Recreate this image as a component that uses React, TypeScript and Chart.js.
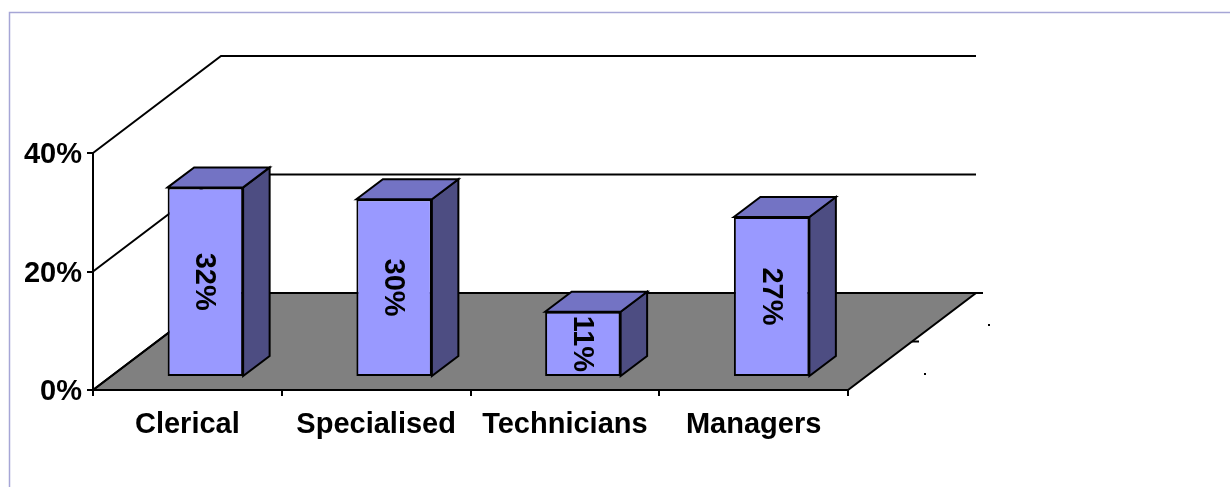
import React, { useEffect, useRef } from "react";
import { Chart, registerables } from "chart.js";

Chart.register(...registerables);

const categories = ["Clerical", "Specialised", "Technicians", "Managers"];
const shares = [32, 30, 11, 27];
const yTicks = [0, 20, 40];

const FONT = "'Liberation Sans', Arial, sans-serif";
const DEPTH_X = 128;
const DEPTH_Y = -97;
const BAR_SHIFT_X = 18;
const BAR_SHIFT_Y = -13;
const BAR_DX = 26.5;
const BAR_DY = -20;

const threeD = {
  id: "threeD",
  beforeDraw(chart: any) {
    const ctx = chart.ctx;
    const { left, right, bottom } = chart.chartArea;
    const y = chart.scales.y;
    ctx.save();
    // outer frame
    ctx.strokeStyle = "#a6a6d6";
    ctx.lineWidth = 1.5;
    ctx.beginPath();
    ctx.moveTo(9.5, 490);
    ctx.lineTo(9.5, 12.5);
    ctx.lineTo(1235, 12.5);
    ctx.stroke();
    // floor
    ctx.fillStyle = "#808080";
    ctx.strokeStyle = "#000";
    ctx.lineWidth = 2;
    ctx.beginPath();
    ctx.moveTo(left, bottom);
    ctx.lineTo(right, bottom);
    ctx.lineTo(right + DEPTH_X, bottom + DEPTH_Y);
    ctx.lineTo(left + DEPTH_X, bottom + DEPTH_Y);
    ctx.closePath();
    ctx.fill();
    ctx.stroke();
    // wall gridlines
    yTicks.forEach((v) => {
      const py = y.getPixelForValue(v);
      ctx.beginPath();
      ctx.moveTo(left, py);
      ctx.lineTo(left + DEPTH_X, py + DEPTH_Y);
      ctx.lineTo(right + DEPTH_X, py + DEPTH_Y);
      ctx.stroke();
    });
    // depth axis ticks
    ctx.beginPath();
    ctx.moveTo(right + DEPTH_X, bottom + DEPTH_Y);
    ctx.lineTo(right + DEPTH_X + 7, bottom + DEPTH_Y);
    ctx.moveTo(right + DEPTH_X / 2, bottom + DEPTH_Y / 2);
    ctx.lineTo(right + DEPTH_X / 2 + 7, bottom + DEPTH_Y / 2);
    ctx.stroke();
    ctx.fillStyle = "#000";
    ctx.fillRect(right + 140, bottom - 66, 2, 2);
    ctx.fillRect(right + 76, bottom - 17, 2, 2);
    ctx.restore();
  },
  beforeDatasetsDraw(chart: any) {
    chart.ctx.save();
    chart.ctx.translate(BAR_SHIFT_X, BAR_SHIFT_Y);
  },
  afterDatasetsDraw(chart: any) {
    const ctx = chart.ctx;
    ctx.restore();
    const meta = chart.getDatasetMeta(0);
    ctx.save();
    ctx.strokeStyle = "#000";
    ctx.lineWidth = 2;
    ctx.lineJoin = "miter";
    meta.data.forEach((bar: any, i: number) => {
      const p = bar.getProps(["x", "y", "base", "width"], true);
      const x1 = p.x - p.width / 2 + BAR_SHIFT_X;
      const x2 = p.x + p.width / 2 + BAR_SHIFT_X;
      const yt = p.y + BAR_SHIFT_Y;
      const yb = p.base + BAR_SHIFT_Y;
      // side
      ctx.fillStyle = "#4d4d82";
      ctx.beginPath();
      ctx.moveTo(x2, yt);
      ctx.lineTo(x2 + BAR_DX, yt + BAR_DY);
      ctx.lineTo(x2 + BAR_DX, yb + BAR_DY);
      ctx.lineTo(x2, yb);
      ctx.closePath();
      ctx.fill();
      ctx.stroke();
      // top
      ctx.fillStyle = "#7373c4";
      ctx.beginPath();
      ctx.moveTo(x1, yt);
      ctx.lineTo(x1 + BAR_DX, yt + BAR_DY);
      ctx.lineTo(x2 + BAR_DX, yt + BAR_DY);
      ctx.lineTo(x2, yt);
      ctx.closePath();
      ctx.fill();
      ctx.stroke();
      // label
      ctx.save();
      ctx.translate((x1 + x2) / 2 - 1, (yt + yb) / 2);
      ctx.rotate(Math.PI / 2);
      ctx.fillStyle = "#000";
      ctx.font = `bold 29px ${FONT}`;
      ctx.textAlign = "center";
      ctx.textBaseline = "middle";
      ctx.fillText(`${shares[i]}%`, 0, 0);
      ctx.restore();
    });
    ctx.restore();
  },
};

export default function App() {
  const ref = useRef<HTMLCanvasElement>(null);
  useEffect(() => {
    if (!ref.current) return;
    const chart = new Chart(ref.current, {
      type: "bar",
      data: {
        labels: categories,
        datasets: [
          {
            data: shares,
            backgroundColor: "#9999ff",
            borderColor: "#000",
            borderWidth: 2,
            borderSkipped: false,
            categoryPercentage: 1,
            barPercentage: 0.4,
            clip: false as any,
          },
        ],
      },
      options: {
        animation: false,
        responsive: false,
        events: [],
        layout: { padding: { top: 153, right: 382, left: 0, bottom: 0 } },
        plugins: { legend: { display: false }, tooltip: { enabled: false } },
        scales: {
          x: {
            grid: {
              drawOnChartArea: false,
              drawTicks: true,
              tickLength: 6,
              color: "#000",
              lineWidth: 2,
            },
            border: { display: true, color: "#000", width: 2 },
            ticks: {
              color: "#000",
              font: { family: FONT, size: 29, weight: "bold" },
              padding: 12,
              maxRotation: 0,
              autoSkip: false,
            },
            afterFit: (s: any) => {
              s.height = 97;
            },
          },
          y: {
            min: 0,
            max: 40,
            grid: {
              drawOnChartArea: false,
              drawTicks: true,
              tickLength: 6,
              color: "#000",
              lineWidth: 2,
            },
            border: { display: true, color: "#000", width: 2 },
            ticks: {
              stepSize: 20,
              color: "#000",
              font: { family: FONT, size: 29, weight: "bold" },
              padding: 5,
              labelOffset: 2,
              callback: (v: any) => `${v}%`,
            },
            afterFit: (s: any) => {
              s.width = 93;
            },
          },
        },
      },
      plugins: [threeD],
    });
    return () => chart.destroy();
  }, []);
  return (
    <div style={{ position: "absolute", left: 0, top: 0, width: 1230, height: 487, background: "#fff" }}>
      <canvas ref={ref} width={1230} height={487} style={{ display: "block" }} />
    </div>
  );
}
